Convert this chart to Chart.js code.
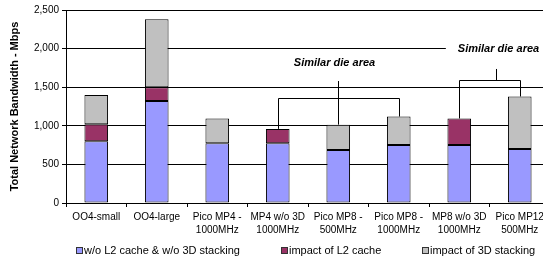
<!DOCTYPE html>
<html>
<head>
<meta charset="utf-8">
<script src="https://cdn.jsdelivr.net/npm/chart.js@4.4.1/dist/chart.umd.min.js"></script>
<style>
  html, body { margin: 0; padding: 0; background: #fff; overflow: hidden; }
  canvas { display: block; }
</style>
</head>
<body>
<canvas id="c" width="553" height="259"></canvas>
<script>
// ---- data ----
const categories = [
  ['OO4-small'], ['OO4-large'], ['Pico MP4 -', '1000MHz'], ['MP4 w/o 3D', '1000MHz'],
  ['Pico MP8 -', '500MHz'], ['Pico MP8 -', '1000MHz'], ['MP8 w/o 3D', '1000MHz'], ['Pico MP12', '500MHz']
];
const seriesNames = ['w/o L2 cache & w/o 3D stacking', 'impact of L2 cache', 'impact of 3D stacking'];
const baseValues = [800, 1320, 775, 775, 685, 750, 750, 700];
const l2Values = [220, 180, null, 185, null, null, 345, null];
const stackValues = [380, 880, 320, null, 330, 370, null, 680];
const yTicks = [0, 500, 1000, 1500, 2000, 2500];
const yTitle = 'Total Network Bandwidth - Mbps';
const noteText = 'Similar die area';
const groupA = [3, 4, 5];
const groupB = [6, 7];
const groupALevels = [1360, 1580, 1813];   // bracket line, stem top, label centre
const groupBLevels = [1593, 1736, 1995];

const colors = ['#9999FF', '#993366', '#C0C0C0'];

const totals = categories.map((_, i) => (baseValues[i] || 0) + (l2Values[i] || 0) + (stackValues[i] || 0));

const bracketPlugin = {
  id: 'brackets',
  afterDatasetsDraw(chart) {
    const ctx = chart.ctx, xs = chart.scales.x, ys = chart.scales.y;
    ctx.save();
    ctx.strokeStyle = '#000';
    ctx.lineWidth = 1;
    function drawGroup(idx, levels, stemX, labelX) {
      const yb = Math.round(ys.getPixelForValue(levels[0])) + 0.5;
      const xsPix = idx.map(i => Math.round(xs.getPixelForValue(i)) + 0.5);
      ctx.beginPath();
      ctx.moveTo(xsPix[0], yb); ctx.lineTo(xsPix[xsPix.length - 1], yb);
      idx.forEach((i, k) => {
        if (k === 0 || k === idx.length - 1) {
          ctx.moveTo(xsPix[k], yb);
          ctx.lineTo(xsPix[k], ys.getPixelForValue(totals[i]));
        }
      });
      const ys2 = ys.getPixelForValue(levels[1]);
      ctx.moveTo(stemX, ys2); ctx.lineTo(stemX, yb);
      if (idx.length === 3) {
        ctx.moveTo(stemX, yb); ctx.lineTo(stemX, ys.getPixelForValue(totals[idx[1]]));
      }
      ctx.stroke();
      // label
      ctx.font = 'italic bold 11px "Liberation Sans", Arial, sans-serif';
      const w = ctx.measureText(noteText).width;
      const yl = ys.getPixelForValue(levels[2]);
      ctx.fillStyle = '#fff';
      ctx.fillRect(labelX - w / 2 - 12, yl - 7, w + 24, 14);
      ctx.fillStyle = '#000';
      ctx.textAlign = 'center';
      ctx.textBaseline = 'middle';
      ctx.fillText(noteText, labelX, yl);
    }
    const stepX = xs.getPixelForValue(1) - xs.getPixelForValue(0);
    const midA = Math.round(xs.getPixelForValue(groupA[1])) + 0.5;
    const midB = Math.round(xs.getPixelForValue(groupB[0]) + 0.6 * stepX) + 0.5;
    drawGroup(groupA, groupALevels, midA, midA - 4);
    drawGroup(groupB, groupBLevels, midB, midB + 2);
    ctx.restore();
  }
};

const legendPlugin = {
  id: 'customLegend',
  afterDraw(chart) {
    const ctx = chart.ctx;
    const xPos = [76, 281, 422];
    const yc = 251;
    ctx.save();
    ctx.font = '11px "Liberation Sans", Arial, sans-serif';
    ctx.textBaseline = 'middle';
    ctx.textAlign = 'left';
    chart.data.datasets.forEach((ds, i) => {
      const x = xPos[i];
      ctx.fillStyle = ds.backgroundColor;
      ctx.fillRect(x, yc - 4, 7, 7);
      ctx.strokeStyle = '#333';
      ctx.lineWidth = 1;
      ctx.strokeRect(x + 0.5, yc - 3.5, 6, 6);
      ctx.fillStyle = '#000';
      ctx.fillText(ds.label, x + 8, yc);
    });
    ctx.restore();
  }
};

const datasets = [baseValues, l2Values, stackValues].map((vals, i) => ({
  label: seriesNames[i],
  data: vals,
  backgroundColor: colors[i],
  borderColor: '#000',
  borderWidth: 1,
  borderSkipped: false,
  categoryPercentage: 1,
  barPercentage: 0.39
}));

new Chart(document.getElementById('c'), {
  type: 'bar',
  data: { labels: categories, datasets },
  options: {
    responsive: false,
    animation: false,
    layout: { padding: { top: 10, right: 3, bottom: 0, left: 0 } },
    plugins: { legend: { display: false }, tooltip: { enabled: false } },
    scales: {
      x: {
        stacked: true,
        grid: { drawOnChartArea: false, offset: true, color: '#000', tickLength: 4, tickColor: '#000' },
        border: { color: '#000', width: 1 },
        ticks: {
          color: '#000', font: { family: '"Liberation Sans", Arial, sans-serif', size: 10, lineHeight: 1.25 },
          padding: 4, maxRotation: 0, autoSkip: false
        },
        afterFit(s) { s.height = 56; }
      },
      y: {
        stacked: true,
        min: 0, max: 2500,
        afterBuildTicks(s) { s.ticks = yTicks.map(v => ({ value: v })); },
        grid: { color: '#000', tickLength: 4, tickColor: '#000' },
        border: { color: '#000', width: 1 },
        ticks: {
          color: '#000', font: { family: '"Liberation Sans", Arial, sans-serif', size: 10 },
          padding: 3,
          callback: v => v.toLocaleString('en-US')
        },
        title: {
          display: true, text: yTitle, color: '#000',
          font: { family: '"Liberation Sans", Arial, sans-serif', size: 11, weight: 'bold' },
          padding: { top: 8, bottom: 0 }
        },
        afterFit(s) { s.width = 66; }
      }
    }
  },
  plugins: [bracketPlugin, legendPlugin]
});
</script>
</body>
</html>
